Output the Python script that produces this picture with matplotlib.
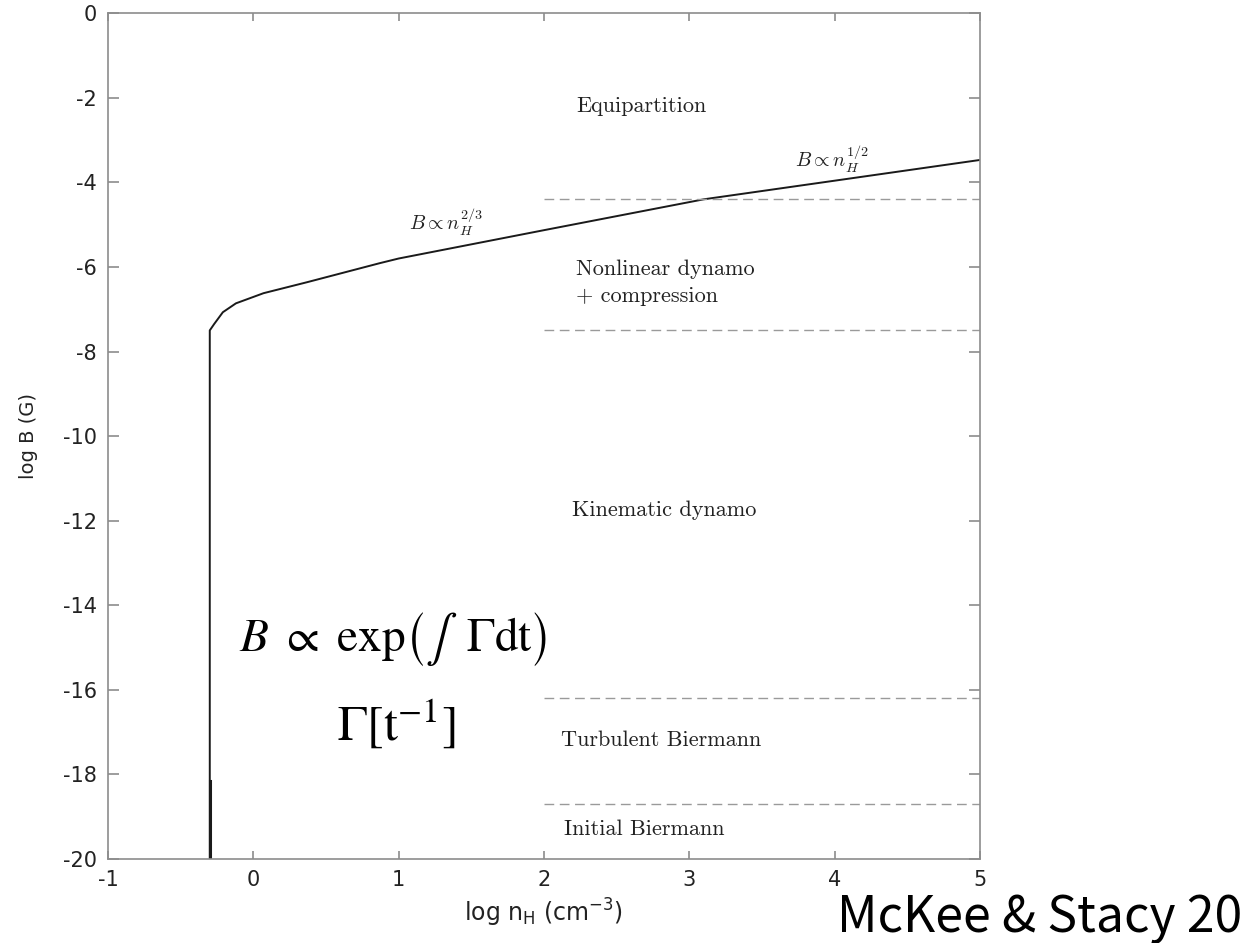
import numpy as np
import matplotlib
matplotlib.use("Agg")
import matplotlib.pyplot as plt

plt.rcParams["axes.unicode_minus"] = False

# field growth track: log n_H vs log B
track_n = [-0.30, -0.30, -0.27, -0.21, -0.12, 0.07, 0.37, 0.87, 1.0, 2.0, 3.1, 4.0, 5.0]
track_b = [-20.0, -7.50, -7.35, -7.07, -6.86, -6.62, -6.36, -5.91, -5.80, -5.13, -4.40, -3.96, -3.47]

# short overlapping segment at the foot of the vertical rise
foot_n = [-0.298, -0.298]
foot_b = [-18.15, -20.0]

# regime boundaries (dashed), drawn from log n_H = 2 to 5
boundary_b = [-4.4, -7.5, -16.2, -18.7]
boundary_span = (2.0, 5.0)

regime_labels = ["Equipartition", "Nonlinear dynamo\n+ compression", "Kinematic dynamo",
                 "Turbulent Biermann", "Initial Biermann"]
regime_pos = [(2.22, -2.2), (2.22, -6.37), (2.19, -11.75), (2.12, -17.2), (2.14, -19.3)]

xticks = [-1, 0, 1, 2, 3, 4, 5]
yticks = list(range(-20, 1, 2))

fig = plt.figure(figsize=(12.42, 9.43), dpi=100)
ax = fig.add_axes([0.087, 0.089, 0.702, 0.897])

ax.plot(track_n, track_b, color="#1a1a1a", lw=1.4, solid_joinstyle="round")
ax.plot(foot_n, foot_b, color="#1a1a1a", lw=2.2)

for b in boundary_b:
    ax.plot(boundary_span, [b, b], color="#9a9a9a", lw=1.0, ls=(0, (7, 4)))

for txt, (x, y) in zip(regime_labels, regime_pos):
    ax.text(x, y, txt, fontfamily="cmr10", fontsize=16, color="#222222",
            ha="left", va="center", linespacing=1.45)

ax.text(1.07, -4.95, r"$B \propto n_H^{2/3}$", math_fontfamily="cm",
        fontsize=14.5, color="#222222", ha="left", va="center")
ax.text(3.73, -3.45, r"$B \propto n_H^{1/2}$", math_fontfamily="cm",
        fontsize=14.5, color="#222222", ha="left", va="center")

# annotation for the kinematic growth phase
ax.text(-0.10, -14.8, r"$B\ \propto\ \mathrm{exp}\left(\int\;\;\Gamma\mathrm{dt}\right)$",
        math_fontfamily="stix", fontsize=34, color="black", ha="left", va="center")
ax.text(0.575, -16.8, r"$\Gamma[\mathrm{t}^{-1}]$",
        math_fontfamily="stix", fontsize=36, color="black", ha="left", va="center")

ax.set_xlim(-1, 5)
ax.set_ylim(-20, 0)
ax.set_xticks(xticks)
ax.set_yticks(yticks)
ax.set_xticklabels([str(t) for t in xticks])
ax.set_yticklabels([str(t) for t in yticks])

for s in ax.spines.values():
    s.set_color("#8c8c8c")
    s.set_linewidth(1.2)
ax.tick_params(axis="x", direction="in", top=True, length=6, width=1.2,
               color="#8c8c8c", labelsize=15, labelcolor="#222222", pad=8)
ax.tick_params(axis="y", direction="in", right=True, length=8, width=1.2,
               color="#8c8c8c", labelsize=15, labelcolor="#222222", pad=8)

ax.set_xlabel(r"log n$_\mathrm{H}$ (cm$^\mathrm{-3}$)", fontsize=17, color="#222222",
              math_fontfamily="dejavusans", labelpad=5)
ax.set_ylabel("log B (G)", fontsize=14, color="#222222", labelpad=18)

fig.text(0.674, 0.012, "McKee & Stacy 20", fontfamily=["Noto Sans CJK JP", "DejaVu Sans"],
         fontsize=36, color="black", ha="left", va="baseline")

fig.savefig("out.png", dpi=100)
